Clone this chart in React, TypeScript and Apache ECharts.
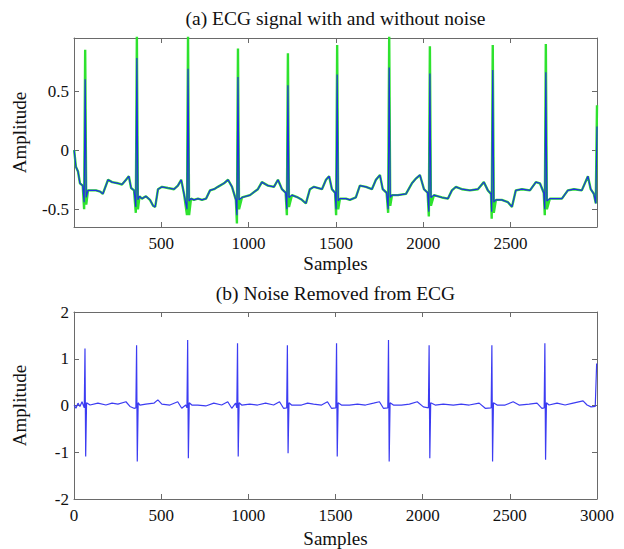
import React, { useEffect, useRef } from 'react';
import * as echarts from 'echarts';

// ---------- Data ----------
// (a) R-peak sample positions
const rSamples = [64, 360, 653, 939, 1225, 1507, 1805, 2038, 2398, 2702];
// clean (blue) and noisy (green) R-peak amplitudes
const cleanR = [0.6, 0.78, 0.69, 0.62, 0.55, 0.64, 0.7, 0.65, 0.68, 0.66];
const noisyR = [0.85, 0.97, 0.97, 0.86, 0.82, 0.89, 0.97, 0.88, 0.89, 0.9];
// Q dips before each spike
const cleanQ = [-0.44, -0.48, -0.5, -0.55, -0.5, -0.5, -0.5, -0.52, -0.52, -0.5];
const noisyQ = [-0.5, -0.53, -0.55, -0.62, -0.55, -0.55, -0.53, -0.56, -0.58, -0.55];
// S points after each spike
const cleanS = [-0.4, -0.42, -0.43, -0.42, -0.4, -0.43, -0.4, -0.4, -0.44, -0.43];
const noisyS = [-0.46, -0.5, -0.55, -0.5, -0.48, -0.5, -0.47, -0.47, -0.53, -0.5];
// (a) baseline (P/T waves) shared by both traces: [sample, amplitude]
const topBaseline: [number, number][] = [
  [1, 0.0], [11, -0.14], [23, -0.18], [34, -0.28], [50, -0.3],
  [80, -0.34], [126, -0.34], [150, -0.35], [165, -0.37], [195, -0.25], [218, -0.27], [252, -0.28],
  [275, -0.29], [298, -0.25], [314, -0.22], [327, -0.32], [344, -0.34],
  [375, -0.39], [389, -0.41], [412, -0.39], [435, -0.42], [453, -0.47], [465, -0.48], [481, -0.33],
  [504, -0.31], [538, -0.32], [573, -0.33], [595, -0.3], [614, -0.25], [630, -0.37],
  [670, -0.41], [687, -0.42], [710, -0.41], [733, -0.42], [756, -0.41], [779, -0.34], [802, -0.33],
  [824, -0.31], [859, -0.28], [882, -0.25], [905, -0.31], [927, -0.42],
  [962, -0.4], [1008, -0.38], [1053, -0.33], [1076, -0.27], [1111, -0.3], [1145, -0.31], [1168, -0.25],
  [1191, -0.33], [1212, -0.36],
  [1248, -0.38], [1282, -0.4], [1305, -0.42], [1328, -0.45], [1351, -0.33], [1374, -0.31], [1420, -0.33],
  [1443, -0.25], [1461, -0.22], [1477, -0.33], [1495, -0.36],
  [1523, -0.41], [1557, -0.41], [1580, -0.42], [1614, -0.4], [1637, -0.3], [1672, -0.31], [1706, -0.33],
  [1729, -0.25], [1752, -0.21], [1768, -0.33], [1790, -0.36],
  [1821, -0.38], [1855, -0.38], [1901, -0.37], [1935, -0.28], [1958, -0.24], [1981, -0.21], [2004, -0.33],
  [2025, -0.36],
  [2061, -0.38], [2107, -0.4], [2141, -0.41], [2164, -0.34], [2187, -0.31], [2221, -0.33], [2267, -0.34],
  [2313, -0.33], [2347, -0.27], [2370, -0.34], [2388, -0.37],
  [2416, -0.42], [2450, -0.42], [2485, -0.44], [2508, -0.48], [2530, -0.34], [2565, -0.33], [2611, -0.34],
  [2645, -0.27], [2668, -0.28], [2690, -0.36],
  [2725, -0.41], [2759, -0.41], [2794, -0.41], [2828, -0.34], [2863, -0.33], [2908, -0.34], [2943, -0.22],
  [2959, -0.33], [2977, -0.37], [2988, -0.45],
];
// value at the right edge (partial spike)
const cleanEnd = 0.2;
const noisyEnd = 0.38;

// (b) noise removed: spike amplitudes
const noiseSamples = [64, 360, 653, 939, 1225, 1507, 1805, 2038, 2398, 2702];
const noisePos = [1.22, 1.29, 1.4, 1.33, 1.29, 1.33, 1.4, 1.29, 1.29, 1.33];
const noiseNeg = [-1.09, -1.2, -1.13, -1.09, -1.02, -1.09, -1.2, -1.13, -1.2, -1.16];
const noiseBaseline: [number, number][] = [
  [1, 0.01], [11, -0.06], [23, 0.05], [34, -0.02], [46, 0.08],
  [92, 0.01], [137, 0.05], [183, 0.01], [218, 0.05], [252, 0.03], [298, 0.08], [321, -0.02], [344, -0.06],
  [378, 0.01], [412, 0.03], [458, 0.05], [481, 0.12], [504, 0.03], [550, 0.01], [595, 0.08], [618, -0.06], [641, 0.01],
  [676, 0.01], [710, 0.01], [756, -0.01], [802, 0.05], [847, 0.01], [882, 0.08], [905, -0.06], [927, 0.05],
  [962, 0.01], [1008, 0.03], [1053, 0.01], [1099, 0.05], [1145, 0.01], [1179, 0.08], [1202, -0.06],
  [1248, 0.01], [1305, 0.01], [1340, 0.05], [1374, 0.03], [1420, 0.01], [1454, 0.08], [1477, -0.06],
  [1534, 0.01], [1580, 0.01], [1626, 0.03], [1672, 0.01], [1718, 0.05], [1752, 0.08], [1775, -0.06],
  [1832, 0.01], [1878, 0.01], [1924, 0.03], [1969, 0.08], [2004, -0.03],
  [2072, 0.01], [2118, 0.03], [2176, 0.01], [2221, 0.03], [2267, 0.01], [2324, 0.05], [2359, -0.06],
  [2427, 0.01], [2473, 0.01], [2519, 0.08], [2553, 0.01], [2611, 0.03], [2656, 0.05], [2684, -0.06],
  [2725, 0.01], [2771, 0.05], [2817, 0.01], [2863, 0.05], [2920, 0.1], [2943, 0.01], [2966, -0.03],
  [2990, -0.02],
];
const noiseEnd = 0.9;

// tick labels
const topXTicks = [500, 1000, 1500, 2000, 2500];
const topYTicks = [-0.5, 0, 0.5];
const botXTicks = [0, 500, 1000, 1500, 2000, 2500, 3000];
const botYTicks = [-2, -1, 0, 1, 2];

const titleA = '(a) ECG signal with and without noise';
const titleB = '(b) Noise Removed from ECG';
const xName = 'Samples';
const yName = 'Amplitude';

// ---------- helpers ----------
function buildTop(peaks: number[], qs: number[], ss: number[], endVal: number): [number, number][] {
  const pts: [number, number][] = topBaseline.map((p) => [p[0], p[1]] as [number, number]);
  rSamples.forEach((r, i) => {
    pts.push([r - 6, qs[i]]);
    pts.push([r, peaks[i]]);
    pts.push([r + 6, ss[i]]);
  });
  pts.push([2995, endVal]);
  pts.sort((a, b) => a[0] - b[0]);
  return pts;
}

function buildNoise(): [number, number][] {
  const pts: [number, number][] = noiseBaseline.map((p) => [p[0], p[1]] as [number, number]);
  noiseSamples.forEach((r, i) => {
    pts.push([r - 5, -0.05]);
    pts.push([r - 1, noisePos[i]]);
    pts.push([r + 3, noiseNeg[i]]);
    pts.push([r + 8, 0.06]);
  });
  pts.push([2998, noiseEnd]);
  pts.sort((a, b) => a[0] - b[0]);
  return pts;
}

const FONT = '"Liberation Serif", "Times New Roman", serif';
const AXIS = '#6a6a6a';
const TXT = '#111';
const fmt = (v: number) => String(v);

function xAx(grid: number, pos: 'top' | 'bottom', min: number, max: number, ticks: number[], named: boolean, nameGap: number) {
  return {
    type: 'value',
    gridIndex: grid,
    position: pos,
    min,
    max,
    axisLine: { show: true, onZero: false, lineStyle: { color: AXIS, width: 1 } },
    axisTick: { show: true, inside: true, length: 5, customValues: ticks, lineStyle: { color: AXIS } },
    axisLabel: {
      show: pos === 'bottom',
      customValues: ticks,
      formatter: fmt,
      color: TXT,
      fontFamily: FONT,
      fontSize: 17,
      margin: 8,
    },
    splitLine: { show: false },
    name: named ? xName : '',
    nameLocation: 'middle',
    nameGap,
    nameTextStyle: { fontFamily: FONT, fontSize: 19, color: TXT },
  };
}

function yAx(grid: number, pos: 'left' | 'right', min: number, max: number, ticks: number[], named: boolean) {
  return {
    type: 'value',
    gridIndex: grid,
    position: pos,
    min,
    max,
    axisLine: { show: true, onZero: false, lineStyle: { color: AXIS, width: 1 } },
    axisTick: { show: true, inside: true, length: 5, customValues: ticks, lineStyle: { color: AXIS } },
    axisLabel: {
      show: pos === 'left',
      customValues: ticks,
      formatter: fmt,
      color: TXT,
      fontFamily: FONT,
      fontSize: 17,
      margin: 5,
    },
    splitLine: { show: false },
    name: named ? yName : '',
    nameLocation: 'middle',
    nameGap: 45,
    nameTextStyle: { fontFamily: FONT, fontSize: 19, color: TXT },
  };
}

export default function App() {
  const ref = useRef<HTMLDivElement>(null);

  useEffect(() => {
    if (!ref.current) return;
    const chart = echarts.init(ref.current, undefined, { renderer: 'svg' });
    const noisy = buildTop(noisyR, noisyQ, noisyS, noisyEnd);
    const clean = buildTop(cleanR, cleanQ, cleanS, cleanEnd);
    const noise = buildNoise();

    chart.setOption({
      animation: false,
      backgroundColor: '#ffffff',
      grid: [
        { left: 74, top: 38, width: 523, height: 189 },
        { left: 74, top: 312, width: 523, height: 187 },
      ],
      xAxis: [
        xAx(0, 'bottom', 0, 2995, topXTicks, true, 27),
        xAx(0, 'top', 0, 2995, topXTicks, false, 0),
        xAx(1, 'bottom', 0, 3000, botXTicks, true, 30),
        xAx(1, 'top', 0, 3000, botXTicks, false, 0),
      ],
      yAxis: [
        yAx(0, 'left', -0.65, 0.95, topYTicks, true),
        yAx(0, 'right', -0.65, 0.95, topYTicks, false),
        yAx(1, 'left', -2, 2, botYTicks, true),
        yAx(1, 'right', -2, 2, botYTicks, false),
      ],
      graphic: [
        {
          type: 'text',
          x: 335.5,
          y: 18,
          style: {
            text: titleA,
            fontFamily: FONT,
            fontSize: 19.5,
            fill: TXT,
            textAlign: 'center',
            textVerticalAlign: 'middle',
            align: 'center',
            verticalAlign: 'middle',
          },
        },
        {
          type: 'text',
          x: 335.5,
          y: 293,
          style: {
            text: titleB,
            fontFamily: FONT,
            fontSize: 19.5,
            fill: TXT,
            textAlign: 'center',
            textVerticalAlign: 'middle',
            align: 'center',
            verticalAlign: 'middle',
          },
        },
      ],
      series: [
        {
          name: 'noisy',
          type: 'line',
          xAxisIndex: 0,
          yAxisIndex: 0,
          data: noisy,
          showSymbol: false,
          symbol: 'none',
          lineStyle: { color: '#2ee22e', width: 2.4 },
          z: 2,
        },
        {
          name: 'clean',
          type: 'line',
          xAxisIndex: 0,
          yAxisIndex: 0,
          data: clean,
          showSymbol: false,
          symbol: 'none',
          lineStyle: { color: '#2030e0', width: 1.2 },
          z: 3,
        },
        {
          name: 'noise',
          type: 'line',
          xAxisIndex: 2,
          yAxisIndex: 2,
          data: noise,
          showSymbol: false,
          symbol: 'none',
          lineStyle: { color: '#3c3cf2', width: 1.2 },
          z: 2,
        },
      ],
    });
    return () => chart.dispose();
  }, []);

  return (
    <div
      ref={ref}
      style={{ position: 'fixed', left: 0, top: 0, width: 624, height: 549, background: '#fff' }}
    />
  );
}
